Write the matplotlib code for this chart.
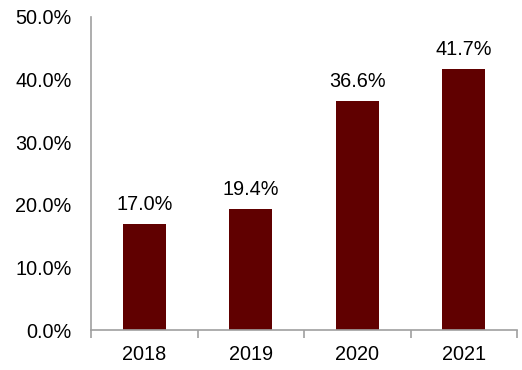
import matplotlib
matplotlib.use("Agg")
import matplotlib.pyplot as plt
import numpy as np
from matplotlib.ticker import FuncFormatter, FixedLocator

years = ['2018', '2019', '2020', '2021']
vals = [17.0, 19.4, 36.6, 41.7]

plt.rcParams['font.family'] = ['Liberation Sans', 'DejaVu Sans']

fig = plt.figure(figsize=(5.22, 3.70), dpi=100)
ax = fig.add_axes([91/522, 1-330/370, 426/522, 313/370])

x = np.arange(len(years))
ax.bar(x, vals, width=0.4, color='#600000')
for xi, v in zip(x, vals):
    ax.text(xi, v + 1.6, f'{v:.1f}%', ha='center', va='bottom', fontsize=14.3)

ax.set_xlim(-0.5, 3.5)
ax.set_ylim(0, 50)
ax.set_yticks(np.arange(0, 51, 10))
ax.yaxis.set_major_formatter(FuncFormatter(lambda v, p: f'{v:.1f}%'))
ax.tick_params(axis='y', length=0, labelsize=14.3, pad=14)
ax.set_xticks(x)
ax.set_xticklabels(years)
ax.tick_params(axis='x', length=0, labelsize=14.3, pad=11)
ax.xaxis.set_minor_locator(FixedLocator(np.arange(-0.5, 3.6, 1)))
ax.tick_params(axis='x', which='minor', length=6, direction='out', color='#a0a0a0', width=1.2)

for s in ['top', 'right']:
    ax.spines[s].set_visible(False)
for s in ['left', 'bottom']:
    ax.spines[s].set_color('#a0a0a0')
    ax.spines[s].set_linewidth(1.2)

fig.savefig('out.png', dpi=100)
